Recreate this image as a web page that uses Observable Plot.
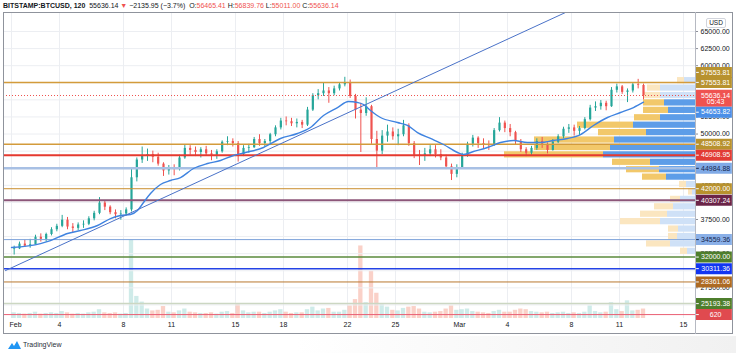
<!DOCTYPE html>
<html><head><meta charset="utf-8">
<script src="https://cdn.jsdelivr.net/npm/d3@7"></script>
<script src="https://cdn.jsdelivr.net/npm/@observablehq/plot@0.6"></script>
<style>
html,body{margin:0;padding:0;background:#fff;}
#wrap{position:relative;width:736px;height:353px;overflow:hidden;background:#fff;font-family:"Liberation Sans",Arial,sans-serif;}
#wrap svg.layer{position:absolute;left:0;top:0;}
#hdr{position:absolute;left:3px;top:1px;font-size:7px;line-height:9px;color:#131722;white-space:nowrap;}
#hdr .r{color:#ef5350;}
#frame{position:absolute;left:3px;top:12px;width:730px;height:322px;box-sizing:border-box;border:1px solid #8f939c;pointer-events:none;}
#divider{position:absolute;left:695px;top:12px;width:1px;height:322px;background:#b6b9c2;}
#usd{position:absolute;left:706px;top:18px;width:18px;height:8px;border:1px solid #d1d4dc;border-radius:2px;background:#fff;font-size:6.5px;line-height:8px;text-align:center;color:#131722;}
#foot{position:absolute;left:0;top:336px;width:736px;height:17px;background:linear-gradient(90deg,#fff 0%,#fff 40%,#f1f1f1 100%);}
#logo{position:absolute;left:8px;top:340px;font-size:7px;line-height:9px;color:#2a2e39;display:flex;align-items:center;gap:2px;}
</style></head>
<body>
<div id="wrap">
  <div id="foot"></div>
</div>
<script>
// ---------- DATA ----------
// 8-hour candles from 2021-02-01 00:00 UTC
const candleStart = "2021-02-01T00:00Z";
const candleHours = 8;
const firstOpen = 33100;
const highs = [33600,34200,34500,34600,35200,35400,35500,36300,36800,38100,37800,36900,37000,37300,37900,38700,40700,40200,39500,38900,38800,
39200,45000,46500,48100,47800,47500,47200,45800,45400,45500,46900,48400,48300,48100,48000,48200,47600,47700,49000,49600,49300,
48900,48300,48500,49500,49900,49200,50100,51200,52300,52500,52300,52200,52000,53900,55900,56500,57500,56800,57000,57500,58300,
57900,55800,54500,55300,54200,50400,50500,51300,50900,50700,52000,51500,48900,47600,47900,48300,48300,47700,46900,45600,45500,
47200,48800,49800,49600,49300,49000,50800,52400,51900,51400,50400,49200,48000,48200,49300,49500,48700,49200,49900,51000,51400,
51300,51100,52400,54200,54700,54900,54800,56800,57300,57100,56600,57500,58000,57300];
const lows = [32300,33100,33400,33300,33800,34200,34200,35100,35700,36300,36000,35600,35900,36200,36600,37300,38200,38800,38200,37600,37400,
38000,38600,43000,45700,46000,45800,45300,43800,44000,43900,44600,46300,46900,46700,46500,46800,46100,46300,47200,48300,48100,
45900,46700,47200,47900,48200,48100,48600,49600,50600,51200,51100,50900,50800,51100,53300,55000,55500,54500,55600,56300,56900,
55200,52200,47300,52600,48500,45000,47000,48800,49100,48300,49600,48200,46400,45400,46000,46700,46500,46100,44800,43200,43600,
45000,46600,48100,47900,47800,47600,48200,50300,50200,49600,48400,47300,46700,46900,47600,47900,47100,47500,48600,49300,50100,
49700,49800,50600,51900,53300,53500,53400,53900,56000,55800,54600,56000,56600,55000];
const closes = [33200,33900,33600,33800,34900,34600,35300,36000,36500,37400,36400,36200,36700,36800,37600,38400,39900,39300,38500,38200,38300,
38900,43600,46200,46800,47000,46600,45600,44600,44900,44800,46500,47900,47600,47300,47700,47100,46900,47400,48800,48900,48600,
47000,47900,48000,49200,48600,48900,49900,50900,51900,51800,51500,51700,51300,53500,55600,55900,56300,55900,56600,57200,57500,
55500,53500,53000,54000,49200,47500,49700,50300,49600,49900,51200,48600,46900,46800,47100,47700,47000,46500,45200,44100,45100,
46900,48500,49400,48600,48400,48300,50500,51600,50800,50200,48900,47700,47200,47900,48900,48500,47600,48800,49600,50700,50900,
50400,50800,52100,53800,54000,54500,54000,56400,56900,56100,56300,57200,57100,55636.14];
const volumes = [900,800,700,800,1000,700,800,900,800,
1100,900,700,800,700,900,1000,1400,900,800,900,700,
800,12400,3500,2600,1500,1200,1300,1900,1000,
900,1200,1500,1000,900,800,800,900,700,1000,1100,800,
2200,1200,900,1000,1000,800,1000,1200,1400,1000,800,900,
900,1400,1800,1200,1500,1600,1000,1000,1300,
2000,3000,11500,2500,7500,4000,2200,1800,1300,
1200,1600,1800,1900,1500,1000,900,1000,1100,1500,2000,1300,
1400,1500,1100,1000,900,800,1100,1300,1000,1000,1300,1500,
1400,1100,1000,900,1000,800,900,1000,800,900,800,1000,
2000,1100,900,1000,2500,1400,1100,2800,1200,1300,1500];
const volumeMA = 620;

// last 2h bar (header)
const symbolName = "BITSTAMP:BTCUSD, 120";
const lastOpen = 56465.41, lastHigh = 56839.76, lastLow = 55011.00, lastClose = 55636.14;
const change = -2135.95, changePct = -3.7;
const countdown = "05:43";

// moving average
const maDates = ["2021-02-01T00:00Z","2021-02-02T19:30Z","2021-02-03T10:30Z","2021-02-04T12:00Z","2021-02-05T07:30Z","2021-02-06T09:00Z","2021-02-07T04:30Z","2021-02-07T19:30Z","2021-02-08T10:30Z","2021-02-08T21:00Z","2021-02-09T06:00Z","2021-02-09T16:30Z","2021-02-10T07:30Z","2021-02-10T22:30Z","2021-02-11T13:30Z","2021-02-12T09:00Z","2021-02-13T06:00Z","2021-02-14T01:30Z","2021-02-14T21:00Z","2021-02-15T15:00Z","2021-02-16T18:00Z","2021-02-17T19:30Z","2021-02-18T21:00Z","2021-02-19T16:30Z","2021-02-20T12:00Z","2021-02-21T09:00Z","2021-02-22T01:30Z","2021-02-22T15:00Z","2021-02-23T00:00Z","2021-02-23T10:30Z","2021-02-24T01:30Z","2021-02-25T03:00Z","2021-02-25T18:00Z","2021-02-26T09:00Z","2021-02-27T04:30Z","2021-02-28T00:00Z","2021-02-28T21:00Z","2021-03-01T06:00Z","2021-03-01T21:00Z","2021-03-02T18:00Z","2021-03-03T13:30Z","2021-03-04T09:00Z","2021-03-05T06:00Z","2021-03-06T01:30Z","2021-03-06T21:00Z","2021-03-07T18:00Z","2021-03-08T13:30Z","2021-03-09T09:00Z","2021-03-10T06:00Z","2021-03-11T01:30Z","2021-03-11T21:00Z","2021-03-12T12:00Z"];
const maValues = [33400,33980,34420,35450,35890,36620,37640,38080,38230,38810,39980,41300,42620,43200,43640,44960,45690,46130,46860,47300,48030,49350,50080,50960,52710,53880,54760,54610,54320,53440,52420,51690,51250,50220,49350,48470,47300,47010,47440,48030,48760,49050,48760,48760,49050,49350,49930,51250,52420,53150,53880,54653.82];

// trend line (two anchor points)
const trendDates = ["2021-01-31T15:00Z","2021-03-07T15:00Z"];
const trendPrices = [30030, 67780];

// horizontal levels
const levelPrices = [57553.81, 48508.92, 46908.95, 44984.88, 42000.00, 40307.24, 34559.36, 32000.00, 30311.36, 28361.06, 25193.38];

// visible-range volume profile, top row first (rows split low..high)
const profileHigh = 58350, profileLow = 32300;
const profileUp   = [7,13,17,21,25,26,56,48,80,76,99,38,33,24,7,4,10,19,27,40,10,9,24,7];
const profileDown = [11,35,35,31,27,35,62,49,81,85,92,45,36,29,9,3,15,22,28,35,17,18,25,8];
const valueArea   = [0,0,0,1,1,1,1,1,1,1,1,1,1,1,0,0,0,0,0,0,0,0,0,0];

// axis ticks (grid at every tick; labels only where the chart shows them)
const priceTicks = [25000,27500,30000,32500,35000,37500,40000,42500,45000,47500,50000,52500,55000,57500,60000,62500,65000];
const priceTickLabels = [27500,32500,37500,42500,50000,52500,60000,62500,65000];
const dateTicks = ["2021-02-01","2021-02-04","2021-02-08","2021-02-11","2021-02-15","2021-02-18","2021-02-22","2021-02-25","2021-03-01","2021-03-04","2021-03-08","2021-03-11","2021-03-15"];
const dateTickLabels = ["Feb","4","8","11","15","18","22","25","Mar","4","8","11","15"];

// ---------- STYLES ----------
const levelLineColor = ["#d39b3b","#d39b3b","#e5392f","#a8c0e4","#c98d2d","#8c5679","#7da3da","#5a8a3b","#2443e6","#b8772f","#ccd7c2"];
const levelLineWidth = [1.5,1.5,2,2.5,1,2,1,1.5,1.5,1,1.5];
const levelBoxColor  = ["#b8922e","#b8922e","#e23b35","#80aae6","#b8922e","#6b2448","#8ab0e8","#4e7e2c","#1236f2","#ad6a22","#4e7e2c"];
const levelTextColor = ["#fff","#fff","#fff","#14264f","#fff","#fff","#14264f","#fff","#fff","#fff","#fff"];
const upColor = "#26a69a", downColor = "#ef5350";
const font = '"Liberation Sans", Arial, sans-serif';

// ---------- BUILD ----------
const t0 = new Date(candleStart).getTime(), step = candleHours * 3600e3;
const candles = closes.map((c, k) => {
  const o = k === 0 ? firstOpen : closes[k - 1];
  return {start: new Date(t0 + k * step), end: new Date(t0 + (k + 1) * step), mid: new Date(t0 + (k + 0.5) * step),
    open: o, high: highs[k], low: lows[k], close: c, vol: volumes[k], up: c >= o};
});
const ups = candles.filter(d => d.up), downs = candles.filter(d => !d.up);
const ma = maDates.map((d, i) => ({date: new Date(d), price: maValues[i]}));
const trend = trendDates.map((d, i) => ({date: new Date(d), price: trendPrices[i]}));
const rowStep = (profileHigh - profileLow) / profileUp.length;
const rows = profileUp.map((u, i) => ({hi: profileHigh - i * rowStep, lo: profileHigh - (i + 1) * rowStep, up: u, down: profileDown[i], va: !!valueArea[i]}));
const ticks = dateTicks.map((d, i) => ({date: new Date(d + "T00:00Z"), label: dateTickLabels[i]}));

const W = 736, H = 334;
const M = {marginTop: 12, marginBottom: 16, marginLeft: 3, marginRight: 41};
const xDomain = [new Date("2021-01-31T12:00Z"), new Date("2021-03-15T18:00Z")];
const yDomain = [23017, 67779];
const volRange = [318, 236];
const st = {background: "transparent", fontFamily: font, overflow: "visible"};
const fmt = v => v.toFixed(2);

// layer 1: vertical grid + volume
const volLayer = Plot.plot({
  width: W, height: H, ...M, style: st,
  x: {type: "utc", domain: xDomain, axis: null},
  y: {domain: [0, 13000], range: volRange, axis: null},
  marks: [
    Plot.ruleX(ticks, {x: "date", stroke: "#eceef2"}),
    Plot.rect(ups, {x1: "start", x2: "end", y1: () => 0, y2: "vol", fill: "rgba(38,166,154,0.22)", insetLeft: 0.5, insetRight: 0.5}),
    Plot.rect(downs, {x1: "start", x2: "end", y1: () => 0, y2: "vol", fill: "rgba(240,120,95,0.34)", insetLeft: 0.5, insetRight: 0.5}),
    Plot.ruleY([volumeMA], {stroke: "#ea5f74", strokeWidth: 1})
  ]
});

// layer 2: horizontal grid + volume profile
const profLayer = Plot.plot({
  width: W, height: H, ...M, style: st,
  x: {domain: [0, 200], range: [695, 495], axis: null},
  y: {domain: yDomain, axis: null},
  marks: [
    Plot.ruleY(priceTicks, {stroke: "#eceef2"}),
    Plot.rect(rows.filter(d => d.va), {x1: () => 0, x2: "down", y1: "lo", y2: "hi", fill: "#5d9de8", insetTop: 0.6, insetBottom: 0.6}),
    Plot.rect(rows.filter(d => d.va), {x1: "down", x2: d => d.down + d.up, y1: "lo", y2: "hi", fill: "#f2c86a", insetTop: 0.6, insetBottom: 0.6}),
    Plot.rect(rows.filter(d => !d.va), {x1: () => 0, x2: "down", y1: "lo", y2: "hi", fill: "#cfe1f7", insetTop: 0.6, insetBottom: 0.6}),
    Plot.rect(rows.filter(d => !d.va), {x1: "down", x2: d => d.down + d.up, y1: "lo", y2: "hi", fill: "#fbe6c0", insetTop: 0.6, insetBottom: 0.6})
  ]
});

// layer 3: price series, levels, drawings
const mainLayer = Plot.plot({
  width: W, height: H, ...M, style: st,
  x: {type: "utc", domain: xDomain, axis: null},
  y: {domain: yDomain, axis: null},
  marks: [
    Plot.ruleX(ups, {x: "mid", y1: "low", y2: "high", stroke: upColor, strokeWidth: 1}),
    Plot.ruleX(downs, {x: "mid", y1: "low", y2: "high", stroke: downColor, strokeWidth: 1}),
    Plot.ruleX(ups, {x: "mid", y1: "open", y2: "close", stroke: upColor, strokeWidth: 2.2}),
    Plot.ruleX(downs, {x: "mid", y1: "open", y2: "close", stroke: downColor, strokeWidth: 2.2}),
    ...levelPrices.map((p, i) => Plot.ruleY([p], {stroke: levelLineColor[i], strokeWidth: levelLineWidth[i]})),
    Plot.ruleY([lastClose], {stroke: "#ef5350", strokeWidth: 1, strokeDasharray: "1,2"}),
    Plot.line(ma, {x: "date", y: "price", stroke: "#3f83e0", strokeWidth: 1.4, curve: "monotone-x"}),
    Plot.line(trend, {x: "date", y: "price", stroke: "#4a72c8", strokeWidth: 1}),
    Plot.text(ticks.slice(0, 1), {x: "date", text: "label", frameAnchor: "bottom", dy: 8, dx: 4, fontSize: 7, fill: "#131722"}),
    Plot.text(ticks.slice(1), {x: "date", text: "label", frameAnchor: "bottom", dy: 8, fontSize: 7, fill: "#131722"})
  ]
});

// layer 4: price axis and labels
function box(p, label, bg, fg, dy = 0, h = 11) {
  return [
    Plot.ruleY([p], {x1: () => 0.02, x2: () => 0.97, stroke: bg, strokeWidth: h, dy}),
    Plot.ruleY([p], {x1: () => 0.03, x2: () => 0.1, stroke: fg, strokeWidth: 1, dy}),
    Plot.text([p], {y: d => d, x: () => 0.53, text: () => label, fill: fg, fontSize: 7, dy})
  ];
}
const axisOpts = {width: W, height: H, marginTop: 12, marginBottom: 16, marginLeft: 695, marginRight: 3, style: st, x: {domain: [0, 1], axis: null}};
const maLast = maValues[maValues.length - 1];
const axisLayer = Plot.plot({
  ...axisOpts,
  y: {domain: yDomain, axis: null},
  marks: [
    Plot.ruleY(priceTicks, {x1: () => 0, x2: () => 0.08, stroke: "#8c8f99"}),
    Plot.text(priceTickLabels, {y: d => d, text: fmt, frameAnchor: "left", dx: 5, textAnchor: "start", fontSize: 7, fill: "#131722"}),
    ...levelPrices.flatMap((p, i) => box(p, fmt(p), levelBoxColor[i], levelTextColor[i])),
    ...box(levelPrices[0], fmt(levelPrices[0]), levelBoxColor[0], levelTextColor[0], -10),
    Plot.ruleY([lastClose], {x1: () => 0.02, x2: () => 0.97, stroke: "#ef5350", strokeWidth: 17, dy: 2.7}),
    Plot.text([lastClose], {y: d => d, x: () => 0.53, text: fmt, fill: "#fff", fontSize: 7}),
    Plot.text([lastClose], {y: d => d, x: () => 0.53, text: () => countdown, fill: "#fff", fontSize: 7, dy: 6.5}),
    ...box(maLast, fmt(maLast), "#4b8fe8", "#fff", 10)
  ]
});
// volume MA value label on the volume scale
const volLabel = Plot.plot({
  ...axisOpts,
  y: {domain: [0, 13000], range: volRange, axis: null},
  marks: box(volumeMA, String(volumeMA), "#e04a4f", "#fff")
});

const wrap = document.getElementById("wrap");
[volLayer, profLayer, mainLayer, axisLayer, volLabel].forEach(s => { s.classList.add("layer"); wrap.appendChild(s); });

wrap.insertAdjacentHTML("beforeend", `
<div id="frame"></div><div id="divider"></div>
<div id="usd">USD</div>
<div id="hdr"><b>${symbolName}</b>&nbsp; ${fmt(lastClose)} <span class="r">▼</span> ${change < 0 ? "−" : ""}${Math.abs(change).toFixed(2)} (${changePct < 0 ? "−" : ""}${Math.abs(changePct)}%)&nbsp; O:<span class="r">${fmt(lastOpen)}</span> H:<span class="r">${fmt(lastHigh)}</span> L:<span class="r">${fmt(lastLow)}</span> C:<span class="r">${fmt(lastClose)}</span></div>
<div id="logo"><svg width="13" height="8" viewBox="0 0 13 8"><path d="M0 8 L4 2 L6 5 L9 0 L13 8 Z" fill="#2196f3"/></svg><span>TradingView</span></div>`);
</script>
</body></html>
